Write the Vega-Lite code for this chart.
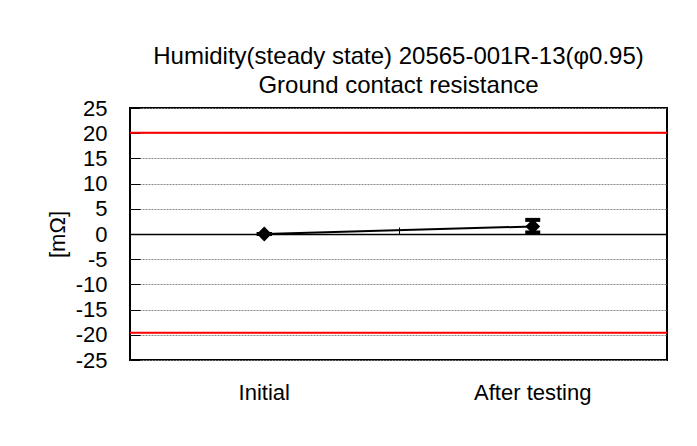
{
  "$schema": "https://vega.github.io/schema/vega-lite/v6.json",
  "width": 537,
  "height": 252,
  "autosize": "none",
  "padding": {"left": 130, "top": 108, "right": 30, "bottom": 86},
  "background": "white",
  "config": {
    "font": "Liberation Sans",
    "view": {"stroke": "black", "strokeWidth": 2}
  },
  "title": {
    "text": ["Humidity(steady state) 20565-001R-13(φ0.95)", "Ground contact resistance"],
    "fontSize": 24,
    "fontWeight": "normal",
    "color": "black",
    "anchor": "middle",
    "lineHeight": 29,
    "baseline": "alphabetic",
    "offset": -20
  },
  "datasets": {
    "pts": [
      {"stage": "Initial", "value": 0, "min": 0, "max": 0},
      {"stage": "After testing", "value": 1.5, "min": 0.3, "max": 2.8}
    ],
    "limits": [{"limit": 20.1}, {"limit": -19.6}]
  },
  "resolve": {"axis": {"x": "independent"}},
  "layer": [
    {
      "data": {"name": "limits"},
      "mark": {"type": "rule", "color": "#ff0000", "strokeWidth": 2},
      "encoding": {
        "y": {
          "field": "limit", "type": "quantitative", "scale": {"domain": [-25, 25]}, "title": "[mΩ]",
          "axis": {
            "values": [-25, -20, -15, -10, -5, 0, 5, 10, 15, 20, 25],
            "tickCount": 11,
            "labelExpr": "'' + datum.value",
            "grid": true,
            "gridColor": "#888888",
            "gridDash": [2, 1],
            "gridWidth": 1,
            "domain": false,
            "ticks": true,
            "tickSize": -10,
            "tickColor": "black",
            "tickWidth": 1,
            "labelFontSize": 22,
            "labelColor": "black",
            "labelPadding": 33,
            "labelOverlap": false,
            "labelBound": false,
            "labelFlush": false,
            "titleFontSize": 22,
            "titleFontWeight": "normal",
            "titleColor": "black",
            "titlePadding": 6
          }
        }
      }
    },
    {
      "data": {"name": "pts"},
      "mark": {"type": "line", "color": "black", "strokeWidth": 2},
      "encoding": {
        "x": {
          "field": "stage", "type": "nominal", "sort": ["Initial", "After testing"],
          "scale": {"type": "band", "paddingInner": 0, "paddingOuter": 0},
          "axis": {
            "orient": "top", "offset": -126, "labels": false, "title": null,
            "domain": true, "domainColor": "black", "domainWidth": 1.5,
            "ticks": true, "tickBand": "extent", "tickSize": 7, "tickColor": "black", "tickWidth": 1,
            "grid": false
          }
        },
        "y": {"field": "value", "type": "quantitative", "title": "[mΩ]"}
      }
    },
    {
      "data": {"name": "pts"},
      "mark": {"type": "rule", "color": "black", "strokeWidth": 5, "opacity": 1},
      "encoding": {
        "x": {
          "field": "stage", "type": "nominal", "sort": ["Initial", "After testing"],
          "scale": {"type": "band", "paddingInner": 0, "paddingOuter": 0},
          "axis": {
            "orient": "bottom", "title": null, "domain": false, "ticks": false, "grid": false,
            "labelFontSize": 22, "labelColor": "black", "labelPadding": 22, "labelAngle": 0
          }
        },
        "y": {"field": "min", "type": "quantitative", "title": "[mΩ]"},
        "y2": {"field": "max"}
      }
    },
    {
      "data": {"name": "pts"},
      "mark": {"type": "tick", "color": "black", "size": 15, "thickness": 4, "orient": "horizontal", "opacity": 1},
      "encoding": {
        "x": {"field": "stage", "type": "nominal", "sort": ["Initial", "After testing"], "axis": null},
        "y": {"field": "min", "type": "quantitative", "title": "[mΩ]"}
      }
    },
    {
      "data": {"name": "pts"},
      "mark": {"type": "tick", "color": "black", "size": 15, "thickness": 4, "orient": "horizontal", "opacity": 1},
      "encoding": {
        "x": {"field": "stage", "type": "nominal", "sort": ["Initial", "After testing"], "axis": null},
        "y": {"field": "max", "type": "quantitative", "title": "[mΩ]"}
      }
    },
    {
      "data": {"name": "pts"},
      "mark": {"type": "point", "shape": "diamond", "filled": true, "color": "black", "size": 220, "opacity": 1},
      "encoding": {
        "x": {"field": "stage", "type": "nominal", "sort": ["Initial", "After testing"], "axis": null},
        "y": {"field": "value", "type": "quantitative", "title": "[mΩ]"}
      }
    }
  ]
}
